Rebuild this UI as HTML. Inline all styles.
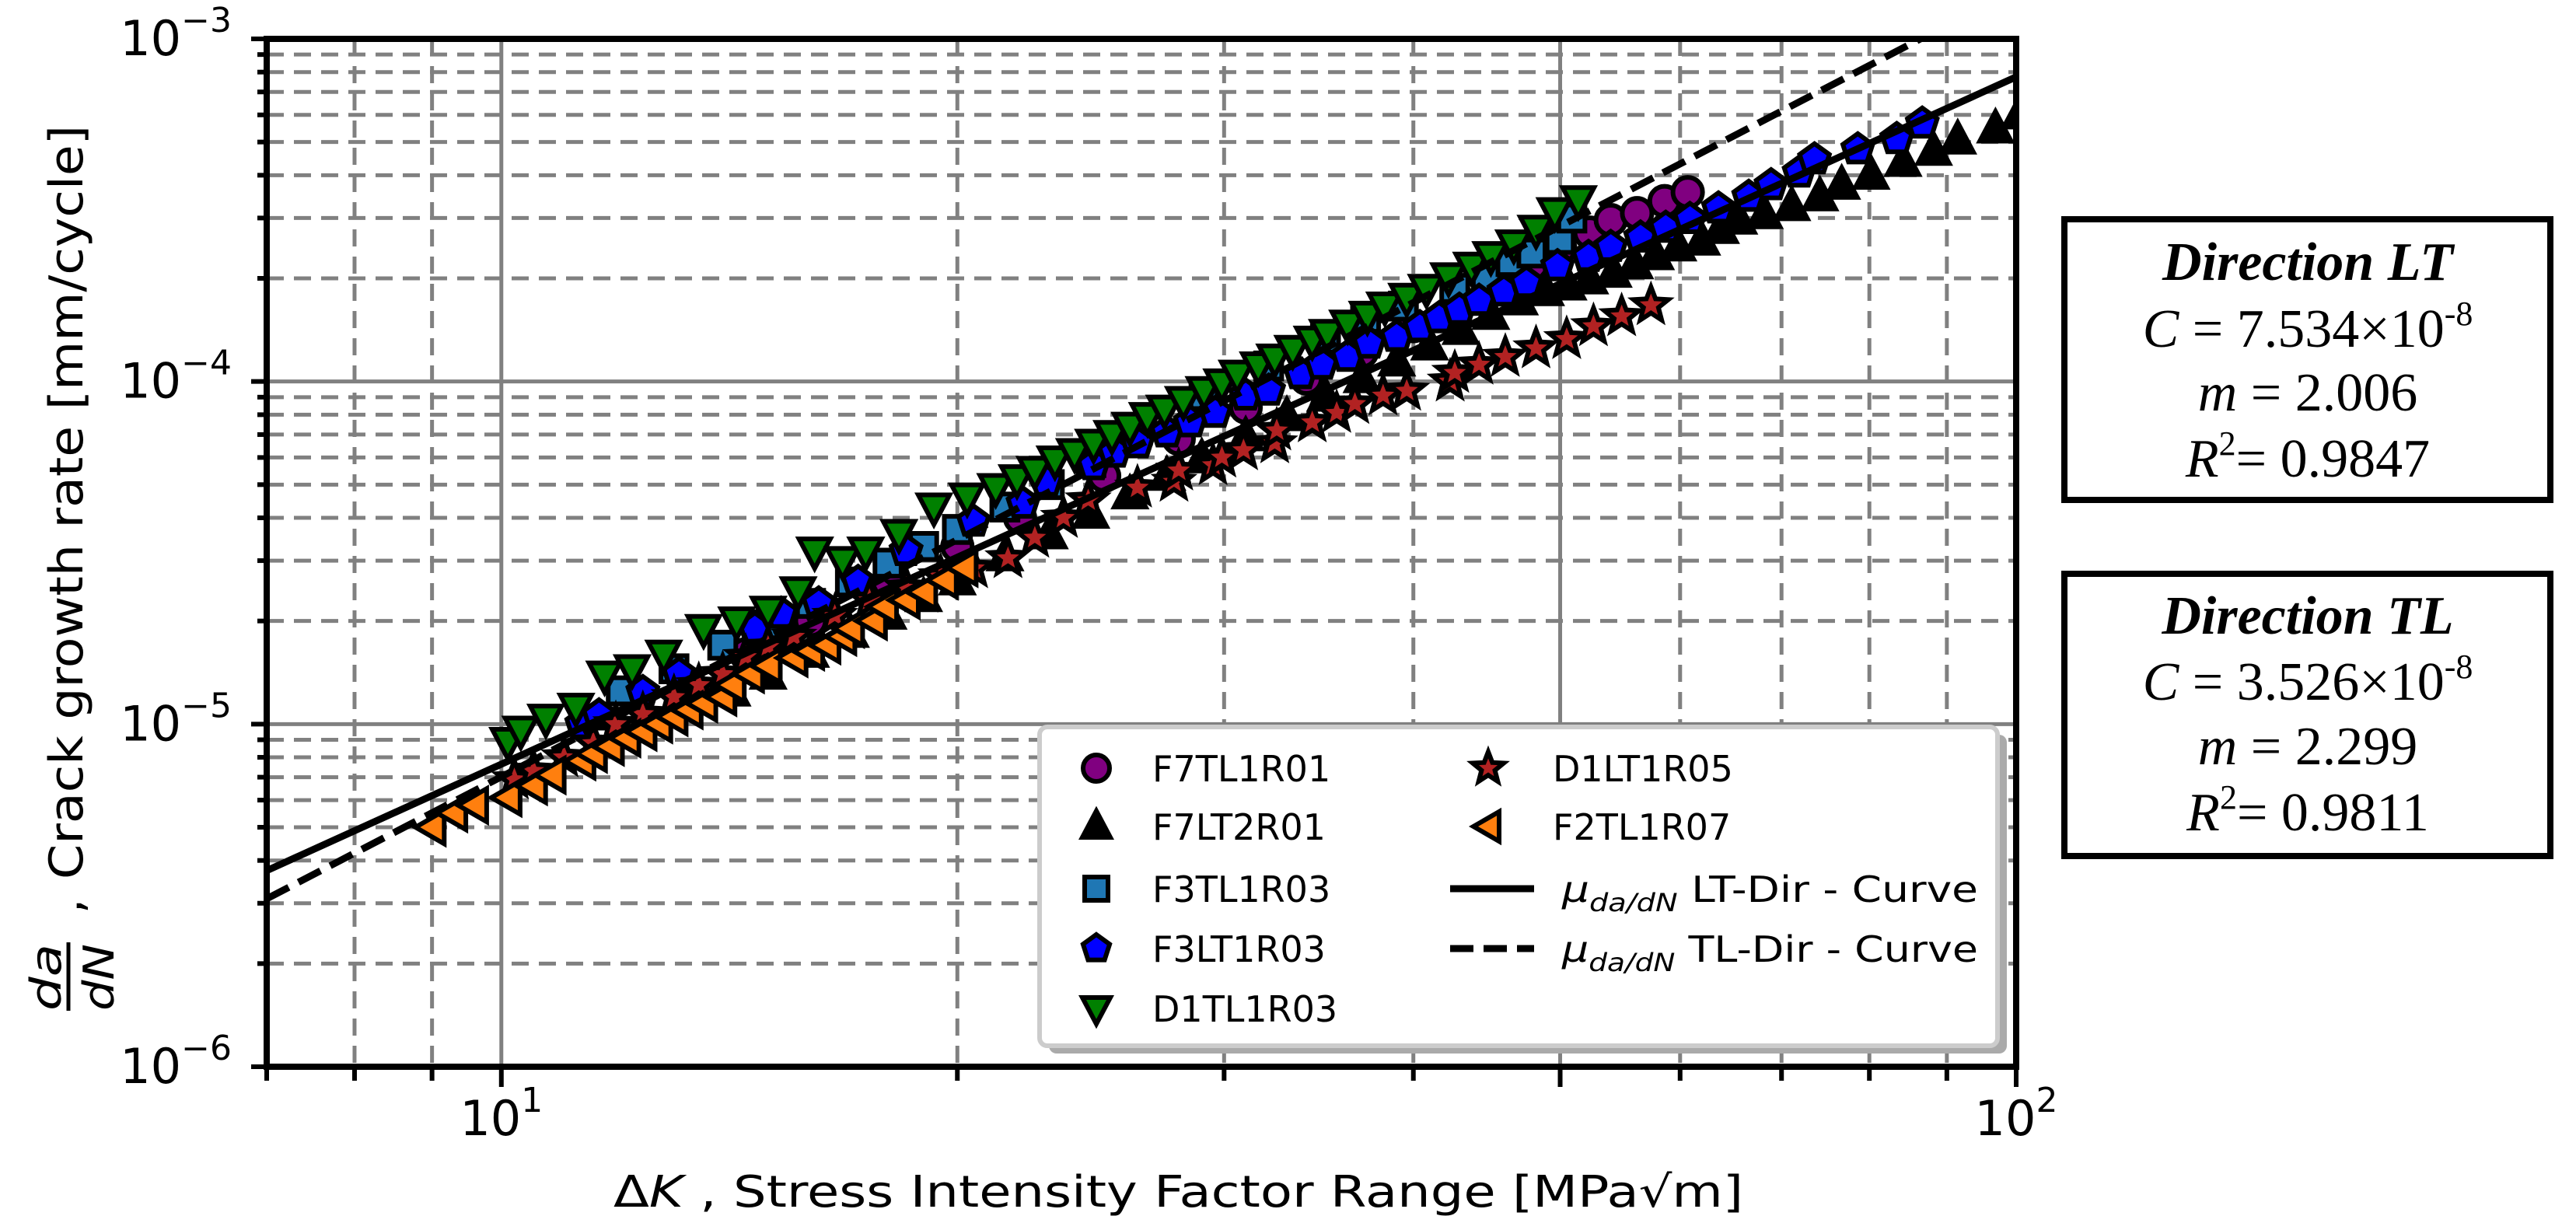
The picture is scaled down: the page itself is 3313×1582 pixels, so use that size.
<!DOCTYPE html>
<html><head><meta charset="utf-8"><title>Crack growth rate chart</title>
<style>html,body{margin:0;padding:0;background:#fff;}svg{display:block;}</style></head>
<body>
<svg id="chart" xmlns="http://www.w3.org/2000/svg" width="3313" height="1582" viewBox="0 0 3313 1582">
<defs><clipPath id="plotclip"><rect x="343" y="50" width="2250" height="1322"/></clipPath></defs>
<rect x="0" y="0" width="3313" height="1582" fill="#fff"/>
<g id="grid"></g>
<g id="marks" clip-path="url(#plotclip)"></g>
<g id="fits" clip-path="url(#plotclip)"></g>
<g id="axes"></g>

<g font-family="DejaVu Sans, Liberation Sans, sans-serif" font-size="60">
  <text transform="translate(106,1131) rotate(-90)" textLength="970" lengthAdjust="spacingAndGlyphs">Crack growth rate [mm/cycle]</text>
  <text transform="translate(106,1175) rotate(-90)">,</text>
  <text transform="translate(78,1300) rotate(-90)" font-style="italic" font-size="54" textLength="86" lengthAdjust="spacingAndGlyphs">da</text>
  <line x1="88" y1="1212" x2="88" y2="1300" stroke="#000" stroke-width="5"/>
  <text transform="translate(146,1300) rotate(-90)" font-style="italic" font-size="54" textLength="86" lengthAdjust="spacingAndGlyphs">dN</text>
</g>
<text x="789" y="1552" textLength="1453" lengthAdjust="spacingAndGlyphs" font-family="DejaVu Sans, Liberation Sans, sans-serif" font-size="56">Δ<tspan font-style="italic">K</tspan> , Stress Intensity Factor Range [MPa√m]</text>

<g id="legend" font-family="DejaVu Sans, Liberation Sans, sans-serif" font-size="46"></g>

<g font-family="Liberation Serif, serif" text-anchor="middle">
  <rect x="2655" y="282" width="625" height="361" fill="#fff" stroke="#000" stroke-width="8"/>
  <text x="2968" y="360" font-size="70" font-weight="bold" font-style="italic">Direction LT</text>
  <text x="2968" y="446" font-size="70"><tspan font-style="italic">C</tspan> = 7.534×10<tspan font-size="44" dy="-28">-8</tspan></text>
  <text x="2968" y="528" font-size="70"><tspan font-style="italic">m</tspan> = 2.006</text>
  <text x="2968" y="613" font-size="70"><tspan font-style="italic">R</tspan><tspan font-size="44" dy="-28">2</tspan><tspan dy="28">= 0.9847</tspan></text>
</g>
<g font-family="Liberation Serif, serif" text-anchor="middle">
  <rect x="2655" y="738" width="625" height="363" fill="#fff" stroke="#000" stroke-width="8"/>
  <text x="2968" y="815" font-size="70" font-weight="bold" font-style="italic">Direction TL</text>
  <text x="2968" y="900" font-size="70"><tspan font-style="italic">C</tspan> = 3.526×10<tspan font-size="44" dy="-28">-8</tspan></text>
  <text x="2968" y="983" font-size="70"><tspan font-style="italic">m</tspan> = 2.299</text>
  <text x="2968" y="1068" font-size="70"><tspan font-style="italic">R</tspan><tspan font-size="44" dy="-28">2</tspan><tspan dy="28">= 0.9811</tspan></text>
</g>
</svg>
<script>
// ---- data ----
const xDomain = [7, 100];
const yDomain = [1e-6, 1e-3];
const xMajorTicks = [10, 100];
const xMajorLabels = ["1", "2"];
const yMajorTicks = [1e-6, 1e-5, 1e-4, 1e-3];
const yMajorLabels = ["\u22126", "\u22125", "\u22124", "\u22123"];

const f7tl1r01K = [14.5,16,18,20,22,25,28,31,34,37,40,43,46,47.9,50,52.3,54,56.2,58.6,60.7];
const f7tl1r01R = [1.6e-5,2.0e-5,2.6e-5,3.3e-5,4.0e-5,5.3e-5,6.8e-5,8.4e-5,1.02e-4,1.22e-4,1.45e-4,1.7e-4,1.98e-4,2.19e-4,2.45e-4,2.72e-4,2.96e-4,3.10e-4,3.36e-4,3.57e-4];

const f7lt2r01K = [14.2,15,16,17,18,19,20,21.5,23,24.5,26,27.5,29,31,33,35,37,39,41,43,45,47,48.9,50.6,52.3,54.2,56,57.8,59.8,62,63.8,65.6,68.2,71.1,74.2,76.7,80.2,84.2,88.2,91.5,96.9,100.5];
const f7lt2r01R = [1.24e-5,1.39e-5,1.61e-5,1.84e-5,2.08e-5,2.34e-5,2.62e-5,3.08e-5,3.57e-5,4.10e-5,4.67e-5,5.29e-5,5.95e-5,6.9e-5,7.9e-5,9.0e-5,1.02e-4,1.14e-4,1.27e-4,1.41e-4,1.56e-4,1.72e-4,1.83e-4,1.9e-4,1.98e-4,2.07e-4,2.19e-4,2.33e-4,2.47e-4,2.57e-4,2.78e-4,2.96e-4,3.07e-4,3.24e-4,3.46e-4,3.74e-4,4.0e-4,4.36e-4,4.7e-4,5.07e-4,5.46e-4,6.0e-4];

const f3tl1r03K = [12,13,14,15,16,17,18,19,20,21.5,23,24.5,26.3,29.1,32.1,35,37.2,39.4,42.6,44.7,46.4,47.9,50,50.9];
const f3tl1r03R = [1.25e-5,1.45e-5,1.7e-5,1.95e-5,2.25e-5,2.6e-5,2.95e-5,3.3e-5,3.7e-5,4.3e-5,5.0e-5,5.8e-5,7.2e-5,9.1e-5,1.11e-4,1.33e-4,1.53e-4,1.66e-4,1.87e-4,2.02e-4,2.24e-4,2.37e-4,2.6e-4,3.0e-4];

const f3lt1r03K = [11.3,11.6,12.4,13.1,14.7,15.3,16.2,17.2,18.5,20.5,22.1,22.9,24.6,25.4,26.3,27.5,28.5,29.6,31,32.1,33.7,34.8,36.2,37.4,39,40.4,41.6,42.9,44.2,45.9,47.5,49.8,52.2,54,56.5,58.7,60.9,63.6,66.6,68.9,71.9,73.6,78.6,83.4,86.7];
const f3lt1r03R = [1.0e-5,1.06e-5,1.24e-5,1.4e-5,1.9e-5,2.1e-5,2.25e-5,2.6e-5,3.2e-5,3.9e-5,4.4e-5,5.1e-5,5.7e-5,6.2e-5,6.6e-5,7.1e-5,7.6e-5,8.1e-5,9.1e-5,9.4e-5,1.05e-4,1.12e-4,1.18e-4,1.29e-4,1.35e-4,1.44e-4,1.53e-4,1.62e-4,1.72e-4,1.83e-4,1.94e-4,2.17e-4,2.31e-4,2.47e-4,2.63e-4,2.81e-4,2.98e-4,3.2e-4,3.46e-4,3.74e-4,4.07e-4,4.45e-4,4.76e-4,5.1e-4,5.66e-4];

const d1tl1r03K = [10.1,10.3,10.7,11.2,11.7,12.2,12.8,13.6,14.3,15.0,15.7,16.1,16.8,17.4,18.3,19.3,20.3,21.2,21.9,22.5,23.2,23.9,24.6,25.3,26,26.7,27.4,28.2,29.1,29.9,30.6,31.6,32.4,33.3,34.3,35.1,36.2,37.3,38.3,39.6,40.8,42.2,43.7,45,46.6,48.2,49.6,51.4];
const d1tl1r03R = [8.9e-6,9.6e-6,1.04e-5,1.12e-5,1.39e-5,1.45e-5,1.6e-5,1.9e-5,2.0e-5,2.15e-5,2.45e-5,3.2e-5,3.0e-5,3.2e-5,3.6e-5,4.3e-5,4.6e-5,4.9e-5,5.2e-5,5.5e-5,5.9e-5,6.2e-5,6.6e-5,7.0e-5,7.4e-5,7.9e-5,8.3e-5,8.8e-5,9.4e-5,9.9e-5,1.05e-4,1.11e-4,1.17e-4,1.24e-4,1.32e-4,1.38e-4,1.47e-4,1.56e-4,1.66e-4,1.76e-4,1.87e-4,2.02e-4,2.17e-4,2.33e-4,2.52e-4,2.78e-4,3.13e-4,3.39e-4];

const d1lt1r05K = [10.2,10.5,11,11.5,11.9,12.4,13,13.5,14,14.5,15,15.6,16.6,17.5,18.5,19.5,20.5,21.6,22.5,23.5,24.4,26.3,27.8,28,29.5,29.9,30.9,32.4,32.5,34.3,35.6,36.6,38.2,39.6,42.3,42.6,44.2,46,48.2,50.5,52.6,54.9,57.4];
const d1lt1r05R = [6.9e-6,7.3e-6,8.0e-6,8.8e-6,1.0e-5,1.07e-5,1.2e-5,1.3e-5,1.4e-5,1.57e-5,1.68e-5,1.8e-5,2.07e-5,2.3e-5,2.5e-5,2.7e-5,2.85e-5,3.05e-5,3.5e-5,4.0e-5,4.5e-5,4.9e-5,5.1e-5,5.5e-5,5.7e-5,6.0e-5,6.3e-5,6.6e-5,7.2e-5,7.6e-5,8.1e-5,8.6e-5,9.1e-5,9.4e-5,1.0e-4,1.06e-4,1.12e-4,1.18e-4,1.25e-4,1.33e-4,1.45e-4,1.55e-4,1.67e-4];

const f2tl1r07K = [9.0,9.3,9.6,10.1,10.5,10.8,11.3,11.5,11.8,12.1,12.4,12.7,13,13.3,13.6,14,14.2,14.6,15,15.6,16,16.4,16.8,17,17.6,17.9,18.5,19,19.6,20.2];
const f2tl1r07R = [5.0e-6,5.5e-6,5.8e-6,6.1e-6,6.6e-6,7.1e-6,7.8e-6,8.2e-6,8.6e-6,9.1e-6,9.5e-6,1.0e-5,1.05e-5,1.1e-5,1.15e-5,1.2e-5,1.3e-5,1.4e-5,1.48e-5,1.56e-5,1.63e-5,1.7e-5,1.8e-5,1.9e-5,2.0e-5,2.2e-5,2.3e-5,2.43e-5,2.63e-5,2.86e-5];

const fitLT_C = 7.534e-8, fitLT_m = 2.006;
const fitTL_C = 3.526e-8, fitTL_m = 2.299;

// ---- scales ----
const PL = 343, PR = 2593, PT = 50, PB = 1372;
const lx0 = Math.log10(xDomain[0]), lx1 = Math.log10(xDomain[1]);
const ly0 = Math.log10(yDomain[0]), ly1 = Math.log10(yDomain[1]);
function X(k){ return PL + (Math.log10(k) - lx0) / (lx1 - lx0) * (PR - PL); }
function Y(r){ return PB - (Math.log10(r) - ly0) / (ly1 - ly0) * (PB - PT); }

const NS = "http://www.w3.org/2000/svg";
function mk(tag, attrs, parent){
  const e = document.createElementNS(NS, tag);
  for (const k in attrs) e.setAttribute(k, attrs[k]);
  parent.appendChild(e);
  return e;
}
const grid = document.getElementById('grid');
const marks = document.getElementById('marks');
const fits = document.getElementById('fits');
const axes = document.getElementById('axes');
const legend = document.getElementById('legend');

// ---- grid ----
const xMinor = [];
for (let d = 1; d <= 100; d *= 10) for (let m = 1; m < 10; m++) { const v = m*d; if (v >= xDomain[0] && v <= xDomain[1]) xMinor.push(v); }
xMinor.forEach(v => {
  const solid = (v === 10 || v === 100 || v === 50);
  const l = mk('line', {x1:X(v), x2:X(v), y1:PT, y2:PB, stroke:'#808080', 'stroke-width':5}, grid);
  if (!solid) l.setAttribute('stroke-dasharray', '22 13');
  
  
});
const yMinor = [];
for (let d = 1e-6; d < 1.5e-3; d *= 10) for (let m = 1; m < 10; m++) { const v = m*d; if (v >= yDomain[0]*0.999 && v <= yDomain[1]*1.001) yMinor.push(v); }
yMinor.forEach((v, i) => {
  const major = (i % 9 === 0);
  const l = mk('line', {x1:PL, x2:PR, y1:Y(v), y2:Y(v), stroke:'#808080', 'stroke-width':5}, grid);
  if (!major) l.setAttribute('stroke-dasharray', '22 13');
  
  
});

// ---- markers ----
const MS = 1.12;
function marker(shape, cx, cy, fill, parent, s){
  s = s || MS;
  let e;
  const st = {fill: fill, stroke:'#000', 'stroke-width':6, 'stroke-linejoin':'miter'};
  if (shape === 'circle') { e = mk('ellipse', Object.assign({cx:cx, cy:cy, rx:17*s, ry:17*s}, st), parent); }
  else {
    let pts;
    if (shape === 'tri-up') pts = [[0,-20],[-18,14],[18,14]];
    else if (shape === 'tri-down') pts = [[0,20],[-18,-14],[18,-14]];
    else if (shape === 'tri-left') pts = [[-19,0],[14,-19],[14,19]];
    else if (shape === 'square') pts = [[-15,-15],[15,-15],[15,15],[-15,15]];
    else if (shape === 'pentagon') { pts = []; for (let i=0;i<5;i++){ const a=-Math.PI/2+i*2*Math.PI/5; pts.push([18*Math.cos(a),18*Math.sin(a)]); } }
    else if (shape === 'star') { pts = []; for (let i=0;i<10;i++){ const a=-Math.PI/2+i*Math.PI/5; const rr=(i%2===0)?21:9; pts.push([rr*Math.cos(a),rr*Math.sin(a)]); } }
    e = mk('polygon', Object.assign({points: pts.map(p => (cx+p[0]*s).toFixed(1)+','+(cy+p[1]*s).toFixed(1)).join(' ')}, st), parent);
  }
  return e;
}

const series = [
  {name:'F7TL1R01', K:f7tl1r01K, R:f7tl1r01R, shape:'circle', fill:'#800080'},
  {name:'F7LT2R01', K:f7lt2r01K, R:f7lt2r01R, shape:'tri-up', fill:'#000000'},
  {name:'F3TL1R03', K:f3tl1r03K, R:f3tl1r03R, shape:'square', fill:'#1f77b4'},
  {name:'F3LT1R03', K:f3lt1r03K, R:f3lt1r03R, shape:'pentagon', fill:'#0000ff'},
  {name:'D1TL1R03', K:d1tl1r03K, R:d1tl1r03R, shape:'tri-down', fill:'#008000'},
  {name:'D1LT1R05', K:d1lt1r05K, R:d1lt1r05R, shape:'star', fill:'#b22222'},
  {name:'F2TL1R07', K:f2tl1r07K, R:f2tl1r07R, shape:'tri-left', fill:'#ff7f0e'}
];
series.forEach(sr => {
  const g = mk('g', {}, marks);
  
  
  sr.K.forEach((k, i) => {
    const m = marker(sr.shape, X(k), Y(sr.R[i]), sr.fill, g);
    
    
  });
});

// ---- fit curves ----
function fitPath(C, m){
  const k0 = xDomain[0], k1 = xDomain[1];
  return 'M' + X(k0) + ',' + Y(C*Math.pow(k0,m)) + ' L' + X(k1) + ',' + Y(C*Math.pow(k1,m));
}
const ltLine = mk('path', {d: fitPath(fitLT_C, fitLT_m), stroke:'#000', 'stroke-width':9, fill:'none'}, fits);


const tlLine = mk('path', {d: fitPath(fitTL_C, fitTL_m), stroke:'#000', 'stroke-width':9, fill:'none', 'stroke-dasharray':'32 14'}, fits);



// ---- axes ----
const frame = mk('rect', {x:PL, y:PT, width:PR-PL, height:PB-PT, fill:'none', stroke:'#000', 'stroke-width':8}, axes);


xMinor.forEach(v => {
  const major = (v === 10 || v === 100 || v === 50);
  const t = mk('line', {x1:X(v), x2:X(v), y1:PB, y2:PB + (major ? 26 : 18), stroke:'#000', 'stroke-width':6}, axes);
  
  
});
yMinor.forEach((v, i) => {
  const major = (i % 9 === 0);
  const t = mk('line', {x1:PL - (major ? 20 : 12), x2:PL, y1:Y(v), y2:Y(v), stroke:'#000', 'stroke-width':6}, axes);
  
  
});
xMajorTicks.forEach((v, i) => {
  const t = mk('text', {x:X(v), y:1460, 'text-anchor':'middle', 'font-family':'DejaVu Sans, Liberation Sans, sans-serif', 'font-size':62}, axes);
  t.innerHTML = '10<tspan font-size="44" dy="-30">' + xMajorLabels[i] + '</tspan>';
  
  
});
yMajorTicks.forEach((v, i) => {
  const t = mk('text', {x:298, y:Y(v) + 21, 'text-anchor':'end', 'font-family':'DejaVu Sans, Liberation Sans, sans-serif', 'font-size':62}, axes);
  t.innerHTML = '10<tspan font-size="44" dy="-30">' + yMajorLabels[i] + '</tspan>';
  
  
});

// ---- legend ----
const lshadow = mk('rect', {x:1349, y:945, width:1232, height:410, rx:10, fill:'#aaaaaa'}, legend);


const lbox = mk('rect', {x:1337, y:935, width:1232, height:410, rx:10, fill:'#fff', stroke:'#cccccc', 'stroke-width':6}, legend);


const rowsY = [988, 1063, 1143, 1220, 1297];
series.forEach((sr, i) => {
  const col = i < 5 ? 0 : 1;
  const row = i < 5 ? i : i - 5;
  const mxp = col === 0 ? 1410 : 1914;
  const txp = col === 0 ? 1482 : 1997;
  const g = mk('g', {}, legend);
  
  
  marker(sr.shape, mxp, rowsY[row], sr.fill, g, 1.0);
  const t = mk('text', {x:txp, y:rowsY[row] + 17}, g);
  t.textContent = sr.name;
});
[['solid','LT-Dir - Curve', 1143], ['dashed','TL-Dir - Curve', 1220]].forEach(d => {
  const g = mk('g', {}, legend);
  
  
  const l = mk('line', {x1:1865, x2:1973, y1:d[2], y2:d[2], stroke:'#000', 'stroke-width':9}, g);
  if (d[0] === 'dashed') l.setAttribute('stroke-dasharray', '30 13');
  const t = mk('text', {x:2009, y:d[2] + 17, textLength:535, lengthAdjust:'spacingAndGlyphs'}, g);
  t.innerHTML = '<tspan font-style="italic">μ</tspan><tspan font-style="italic" font-size="32" dy="12">da/dN</tspan><tspan dy="-12"> ' + d[1] + '</tspan>';
});
</script>
</body></html>
